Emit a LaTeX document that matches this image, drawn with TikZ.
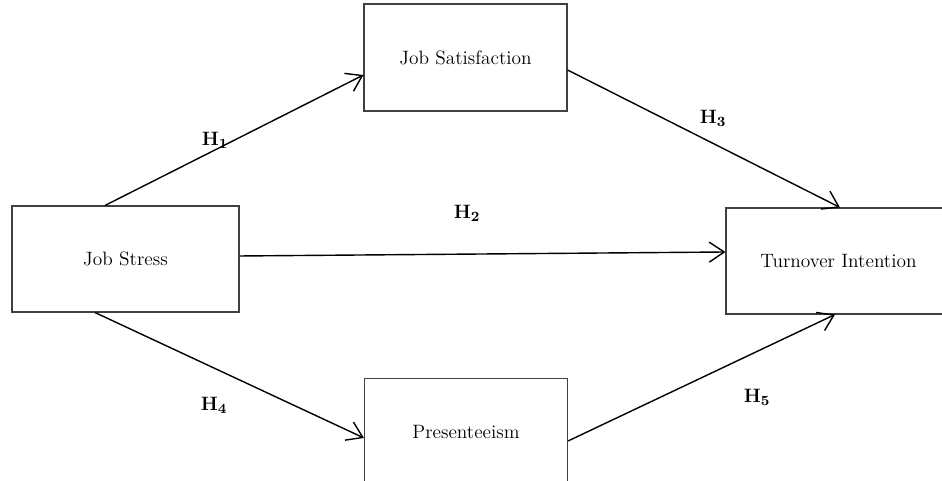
\documentclass[tikz,border=0pt]{standalone}
\usepackage{tikz}
\usetikzlibrary{arrows.meta,calc,positioning}

\begin{document}
\begin{tikzpicture}[
		basic/.style  = {draw=black!75, line width=0.6pt, rectangle, align=center, font=\fontsize{11}{13}\selectfont},
		construct/.style = {basic, minimum width=4.06cm, minimum height=2.14cm},
		wide/.style = {basic, minimum width=4.54cm, minimum height=2.12cm},
		hyp/.style = {font=\fontsize{11}{13}\selectfont\bfseries},
		link/.style = {-{Straight Barb[length=3mm,width=4mm,line width=0.8pt]}, line width=0.8pt, draw=black},
		]
		
		% Frame of the picture
		\clip (0,0) rectangle (18.84,9.62);
		
		% Constructs of the model
		\node[wide] (stress) at (2.51,4.44) {Job Stress};
		\node[construct] (satis) at (9.31,8.47) {Job Satisfaction};
		\node[construct] (pres) at (9.32,0.98) {Presenteeism};
		\node[wide, minimum width=4.5cm] (turn) at (16.77,4.40) {Turnover Intention};
		
		% Paths between the constructs
		\draw[link] ($(stress.north)+(-0.41,0)$) -- ($(satis.west)+(0,-0.35)$);
		\draw[link] ($(stress.east)+(0,0.06)$) -- ($(turn.west)+(0,0.18)$);
		\draw[link] ($(satis.east)+(0,-0.25)$) -- ($(turn.north)+(0.03,0)$);
		\draw[link] ($(stress.south)+(-0.61,0)$) -- ($(pres.west)+(0,-0.12)$);
		\draw[link] ($(pres.east)+(0,-0.18)$) -- ($(turn.south)+(-0.07,0)$);
		
		% Hypothesis labels
		\node[hyp] (h1) at (4.30,6.82) {H$_{\mathbf{1}}$};
		\node[hyp] (h2) at (9.34,5.36) {H$_{\mathbf{2}}$};
		\node[hyp] (h3) at (14.26,7.26) {H$_{\mathbf{3}}$};
		\node[hyp] (h4) at (4.28,1.52) {H$_{\mathbf{4}}$};
		\node[hyp] (h5) at (15.14,1.68) {H$_{\mathbf{5}}$};
		
	\end{tikzpicture}
\end{document}
